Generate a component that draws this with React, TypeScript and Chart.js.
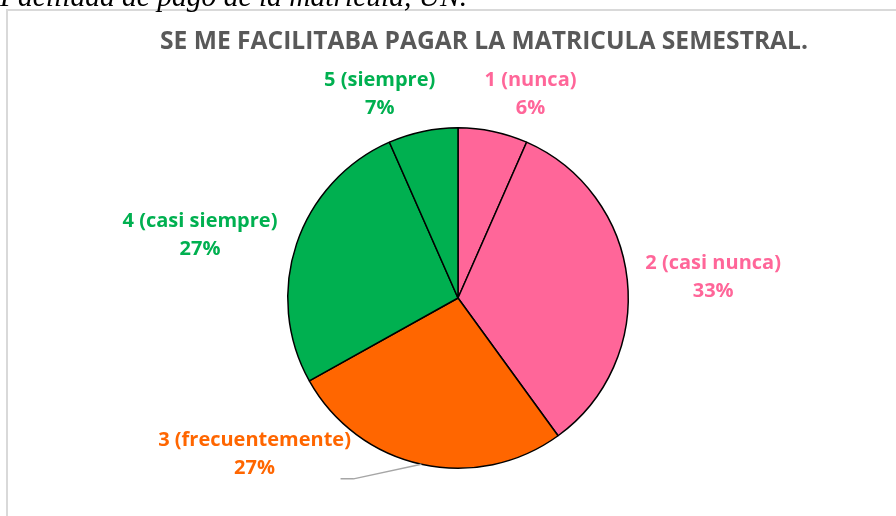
import React, { useEffect, useRef } from "react";
import { Chart, registerables } from "chart.js";

Chart.register(...registerables);

// ---- data ----
const categories = ["1 (nunca)", "2 (casi nunca)", "3 (frecuentemente)", "4 (casi siempre)", "5 (siempre)"];
const shares = [6.6, 33.4, 26.9, 26.5, 6.6];
const pctLabels = ["6%", "33%", "27%", "27%", "7%"];
const chartTitle = "SE ME FACILITABA PAGAR LA MATRICULA SEMESTRAL.";
const captionText = "Facilidad de pago de la matrícula, UN.";

// ---- styles ----
const sliceColors = ["#FF6699", "#FF6699", "#FF6600", "#00B050", "#00B050"];
// label placement: angle (deg clockwise from top) and distance as a factor of the radius
const labelAngles = [18.9, 83.6, 233.9, 285.3, 339.7];
const labelDist = [1.315, 1.508, 1.479, 1.571, 1.326];

const W = 896;
const H = 516;

const decorPlugin = {
  id: "decor",
  beforeDraw(chart: any) {
    const ctx = chart.ctx;
    ctx.save();
    ctx.fillStyle = "#ffffff";
    ctx.fillRect(0, 0, W, H);
    // chart frame (top & left visible)
    ctx.strokeStyle = "#D9D9D9";
    ctx.lineWidth = 2;
    ctx.beginPath();
    ctx.moveTo(7, H + 5);
    ctx.lineTo(7, 10);
    ctx.lineTo(W + 5, 10);
    ctx.stroke();
    // caption above the frame (cut off)
    ctx.fillStyle = "#000000";
    ctx.font = "italic 29.5px 'Liberation Serif'";
    ctx.textAlign = "left";
    ctx.textBaseline = "alphabetic";
    ctx.fillText(captionText, 0, 6);
    // title
    ctx.fillStyle = "#595959";
    ctx.font = "bold 24.6px 'Open Sans'";
    ctx.textAlign = "center";
    ctx.fillText(chartTitle, 484, 49);
    ctx.restore();
  },
  afterDatasetsDraw(chart: any) {
    const ctx = chart.ctx;
    const meta = chart.getDatasetMeta(0);
    ctx.save();
    ctx.textAlign = "center";
    ctx.textBaseline = "alphabetic";
    ctx.font = "bold 20px 'Open Sans'";
    meta.data.forEach((arc: any, i: number) => {
      const r = arc.outerRadius;
      const a = (labelAngles[i] * Math.PI) / 180;
      const lx = arc.x + r * labelDist[i] * Math.sin(a);
      const ly = arc.y - r * labelDist[i] * Math.cos(a);
      if (i === 2) {
        const mid = (arc.startAngle + arc.endAngle) / 2;
        const sx = arc.x + r * Math.cos(mid);
        const sy = arc.y + r * Math.sin(mid);
        ctx.strokeStyle = "#A6A6A6";
        ctx.lineWidth = 1.5;
        ctx.beginPath();
        ctx.moveTo(sx, sy);
        ctx.lineTo(lx + 99, ly + 32.5);
        ctx.lineTo(lx + 86, ly + 32.5);
        ctx.stroke();
      }
      ctx.fillStyle = sliceColors[i];
      ctx.fillText(categories[i], lx, ly);
      ctx.fillText(pctLabels[i], lx, ly + 28);
    });
    ctx.restore();
  },
};

export default function App() {
  const ref = useRef<HTMLCanvasElement>(null);
  useEffect(() => {
    if (!ref.current) return;
    const chart = new Chart(ref.current, {
      type: "pie",
      data: {
        labels: categories,
        datasets: [
          {
            data: shares,
            backgroundColor: sliceColors,
            borderColor: "#000000",
            borderWidth: 1.5,
          },
        ],
      },
      options: {
        responsive: false,
        animation: false,
        layout: { padding: { left: 287, right: 267, top: 127, bottom: 47 } },
        plugins: {
          legend: { display: false },
          tooltip: { enabled: false },
          title: { display: false },
        },
      },
      plugins: [decorPlugin],
    });
    return () => chart.destroy();
  }, []);
  return (
    <div style={{ position: "absolute", left: 0, top: 0, width: W, height: H }}>
      <canvas ref={ref} width={W} height={H} style={{ display: "block" }} />
    </div>
  );
}
